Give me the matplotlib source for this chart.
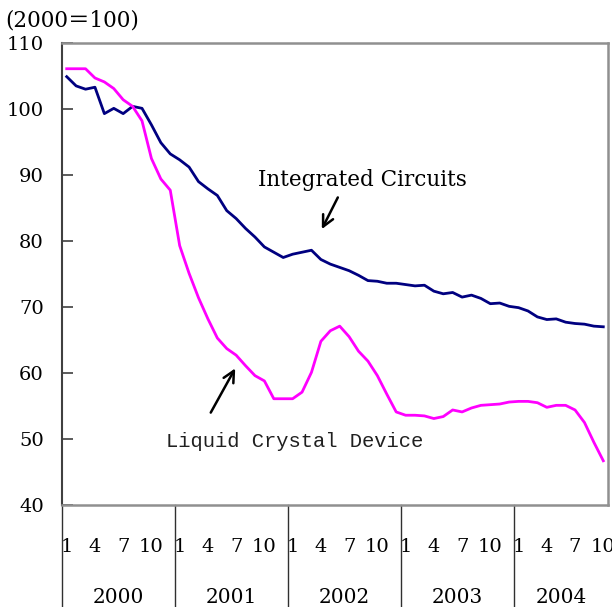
import matplotlib
matplotlib.use("Agg")
import matplotlib.pyplot as plt
import numpy as np

# ---- data ----
years = ["2000", "2001", "2002", "2003", "2004"]
month_labels = ["1", "4", "7", "10"]
month_label_numbers = [1, 4, 7, 10]

integrated_circuits = [
    104.9, 103.5, 103.0, 103.3, 99.3, 100.1, 99.3, 100.4, 100.1, 97.6, 94.9, 93.2,
    92.3, 91.2, 89.0, 87.9, 86.9, 84.6, 83.4, 81.9, 80.6, 79.1, 78.3, 77.5,
    78.0, 78.3, 78.6, 77.2, 76.5, 76.0, 75.5, 74.8, 74.0, 73.9, 73.6, 73.6,
    73.4, 73.2, 73.3, 72.4, 72.0, 72.2, 71.5, 71.8, 71.3, 70.5, 70.6, 70.1,
    69.9, 69.4, 68.5, 68.1, 68.2, 67.7, 67.5, 67.4, 67.1, 67.0,
]
liquid_crystal = [
    106.1, 106.1, 106.1, 104.7, 104.1, 103.1, 101.4, 100.4, 98.2, 92.5, 89.4, 87.7,
    79.3, 75.1, 71.4, 68.2, 65.3, 63.7, 62.7, 61.1, 59.6, 58.8, 56.1, 56.1,
    56.1, 57.1, 60.1, 64.8, 66.4, 67.1, 65.5, 63.3, 61.8, 59.6, 56.8, 54.1,
    53.6, 53.6, 53.5, 53.1, 53.4, 54.4, 54.1, 54.7, 55.1, 55.2, 55.3, 55.6,
    55.7, 55.7, 55.5, 54.8, 55.1, 55.1, 54.4, 52.5, 49.5, 46.7,
]

y_ticks = [40, 50, 60, 70, 80, 90, 100, 110]

serif = ["DejaVu Serif", "Noto Sans CJK JP"]

fig = plt.figure(figsize=(6.12, 6.07), dpi=100)
ax = fig.add_axes([62 / 612, 102 / 607, 546 / 612, 462 / 607])

n = len(integrated_circuits)
x = np.arange(n)
ax.plot(x, integrated_circuits, color="#000080", lw=2.0, solid_joinstyle="round")
ax.plot(x, liquid_crystal, color="#FF00FF", lw=2.0, solid_joinstyle="round")

ax.set_xlim(-0.5, n - 0.5)
ax.set_ylim(40, 110)
ax.set_yticks(y_ticks)
ax.set_yticklabels([str(v) for v in y_ticks], fontfamily=serif, fontsize=14)
ax.tick_params(axis="y", direction="in", length=8, width=1.2, color="#404040", pad=13)
ax.set_xticks([])

for side in ["top", "right", "bottom"]:
    ax.spines[side].set_color("#909090")
    ax.spines[side].set_linewidth(1.8)
ax.spines["left"].set_color("#404040")
ax.spines["left"].set_linewidth(1.5)

# category axis labels below
trans = ax.get_xaxis_transform()
for k, yr in enumerate(years):
    start = 12 * k
    for lab, m in zip(month_labels, month_label_numbers):
        idx = start + m - 1
        if idx < n:
            ax.text(idx, -0.09, lab, transform=trans, ha="center", va="center",
                    fontfamily=serif, fontsize=14, clip_on=False)
    end = min(start + 12, n)
    ax.text((start - 0.5 + end - 0.5) / 2, -0.2, yr, transform=trans,
            ha="center", va="center", fontfamily=serif, fontsize=14.5, clip_on=False)
    ax.plot([start - 0.5, start - 0.5], [0, -0.24], transform=trans,
            color="#303030", lw=1.0, clip_on=False)

fig.text(5 / 612, 1 - 20 / 607, "(2000＝100)", ha="left", va="center",
         fontfamily=serif, fontsize=15.5)

# annotations
ax.text(31.4, 89.2, "Integrated Circuits", ha="center", va="center",
        fontfamily=serif, fontsize=15.5)
ax.annotate("", xy=(27.1, 81.8), xytext=(28.8, 86.6),
            arrowprops=dict(arrowstyle="->", color="black", lw=1.8,
                            mutation_scale=20, shrinkA=0, shrinkB=0))
ax.text(10.55, 49.6, "Liquid Crystal Device", ha="left", va="center",
        fontfamily=["Liberation Mono", "DejaVu Sans Mono"], fontsize=14.8,
        color="#202020")
ax.annotate("", xy=(17.9, 60.7), xytext=(15.3, 54.0),
            arrowprops=dict(arrowstyle="->", color="black", lw=1.8,
                            mutation_scale=20, shrinkA=0, shrinkB=0))

fig.savefig("out.png", dpi=100)
